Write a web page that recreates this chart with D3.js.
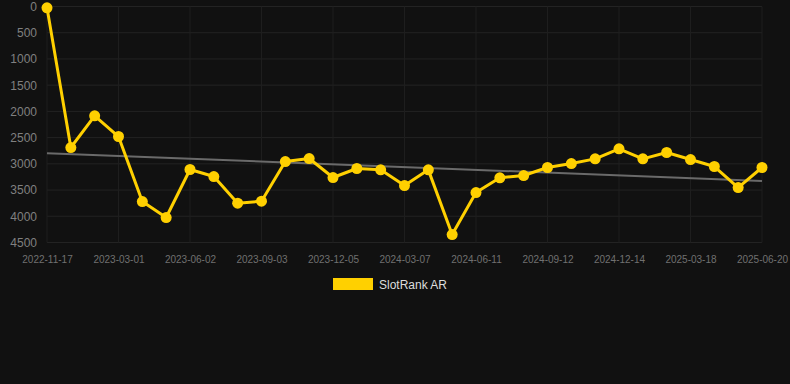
<!DOCTYPE html>
<html><head><meta charset="utf-8">
<script src="https://cdn.jsdelivr.net/npm/d3@7"></script>
<style>html,body{margin:0;padding:0;background:#111111;}svg{display:block;}</style>
</head><body>
<svg id="chart" width="790" height="384"></svg>
<script>
const tickLabels = ["2022-11-17","2023-03-01","2023-06-02","2023-09-03","2023-12-05","2024-03-07","2024-06-11","2024-09-12","2024-12-14","2025-03-18","2025-06-20"];
const rankValues = [25,2689,2085,2479,3719,4024,3108,3242,3750,3712,2956,2899,3261,3089,3115,3414,3115,4348,3547,3267,3223,3070,2994,2905,2714,2905,2784,2918,3051,3452,3070];
const yTicks = [0,500,1000,1500,2000,2500,3000,3500,4000,4500];
const seriesName = "SlotRank AR";

const svg = d3.select("#chart");
const W = 790, H = 384;
svg.append("rect").attr("width", W).attr("height", H).attr("fill", "#111111");

const x = d3.scaleLinear().domain([0, rankValues.length - 1]).range([47, 762]);
const y = d3.scaleLinear().domain([0, 4500]).range([6.5, 242.5]);
const font = "Arial, 'Liberation Sans', sans-serif";

// grid
const g = svg.append("g");
g.selectAll("line.h").data(yTicks).join("line")
  .attr("x1", 47).attr("x2", 762)
  .attr("y1", d => y(d)).attr("y2", d => y(d))
  .attr("stroke", "#232323").attr("stroke-width", 1);
const tickIdx = tickLabels.map((_, i) => i * 3);
g.selectAll("line.v").data(tickIdx).join("line")
  .attr("x1", d => x(d)).attr("x2", d => x(d))
  .attr("y1", 6.5).attr("y2", 242.5)
  .attr("stroke", "#1e1e1e").attr("stroke-width", 1);

// y axis labels
const yAxis = d3.axisLeft(y).tickValues(yTicks).tickFormat(d3.format("d")).tickSize(0).tickPadding(0);
const ya = svg.append("g").attr("transform", "translate(37,0)").call(yAxis);
ya.select(".domain").remove();
ya.selectAll("text").attr("fill", "#808080").attr("font-size", "12px").attr("font-family", font);

// x axis labels
const xAxis = d3.axisBottom(x).tickValues(tickIdx).tickFormat((d, i) => tickLabels[i]).tickSize(0).tickPadding(0);
const xa = svg.append("g").attr("transform", "translate(0,255.5)").call(xAxis);
xa.select(".domain").remove();
xa.selectAll("text").attr("fill", "#707070").attr("font-size", "10px").attr("font-family", font);

// trend (least squares)
const n = rankValues.length;
const mx = d3.mean(rankValues, (d, i) => i), my = d3.mean(rankValues);
let sxy = 0, sxx = 0;
rankValues.forEach((v, i) => { sxy += (i - mx) * (v - my); sxx += (i - mx) * (i - mx); });
const slope = sxy / sxx, icpt = my - slope * mx;
svg.append("line")
  .attr("x1", x(0)).attr("y1", y(icpt))
  .attr("x2", x(n - 1)).attr("y2", y(icpt + slope * (n - 1)))
  .attr("stroke", "#6a6a6a").attr("stroke-width", 2);

// series
const line = d3.line().x((d, i) => x(i)).y(d => y(d));
svg.append("path").datum(rankValues).attr("d", line)
  .attr("fill", "none").attr("stroke", "#FFD000").attr("stroke-width", 3).attr("stroke-linejoin", "round");
svg.selectAll("circle.pt").data(rankValues).join("circle")
  .attr("cx", (d, i) => x(i)).attr("cy", d => y(d)).attr("r", 5.5)
  .attr("fill", "#FFD000");

// legend
svg.append("rect").attr("x", 333).attr("y", 278).attr("width", 40).attr("height", 12).attr("fill", "#FFD000");
svg.append("text").attr("x", 379).attr("y", 288.5).text(seriesName)
  .attr("fill", "#dddddd").attr("font-size", "12px").attr("font-family", font);
</script>
</body></html>
